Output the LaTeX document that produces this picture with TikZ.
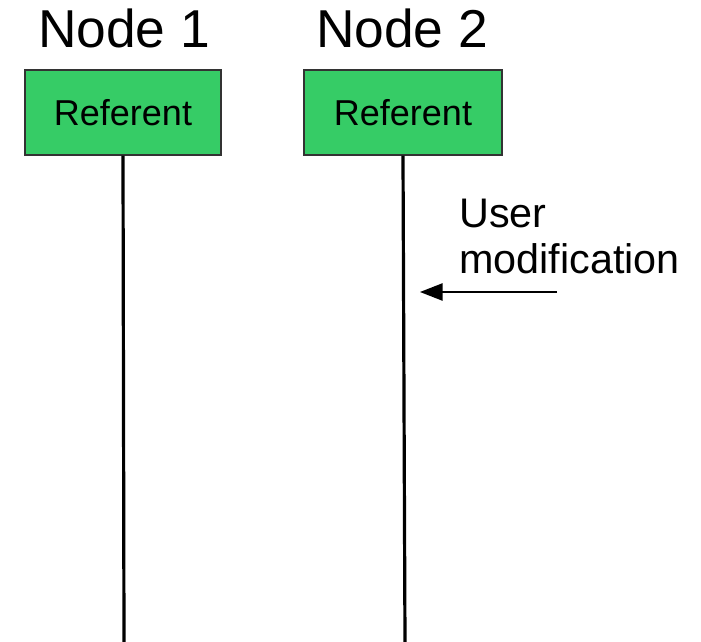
\documentclass[tikz,border=0pt]{standalone}
\usepackage{fontspec}
\setmainfont{Liberation Sans}
\usetikzlibrary{
	arrows.meta,
	calc
}
\definecolor{refgreen}{RGB}{54,204,102}

\begin{document}
\begin{tikzpicture}[
    x=0.75pt,y=-0.75pt,
    refbox/.style = { draw=black!80,fill=refgreen,line width=1.1pt,minimum width=+147pt,minimum height=+63.75pt,font=\fontsize{27}{30}\selectfont },
    title/.style = { anchor=base,inner sep=0pt,font=\fontsize{40}{44}\selectfont },
    lifeline/.style = { line width=2.4pt },
    arrowstyle/.style = { -{Triangle[length=17pt,width=13pt]},line width=1.1pt }
    ]
    \useasboundingbox (0,0) rectangle (701,642);
    % Definitions
    \coordinate (t1)   at (124, 48);
    \coordinate (t2)   at (402, 48);
    \coordinate (ref1) at (123,112.5);
    \coordinate (ref2) at (403,112.5);
    \coordinate (end1) at (124,642);
    \coordinate (end2) at (405,642);
    \coordinate (note) at (459,273);
    \coordinate (modS) at (557,292);
    \coordinate (modE) at (420,292);
    % Nodes
    \node(T1) at (t1)   [title]  {Node 1};
    \node(T2) at (t2)   [title]  {Node 2};
    \node(R1) at (ref1) [refbox] {Referent};
    \node(R2) at (ref2) [refbox,minimum width=+148.5pt] {Referent};
    \node(U)  at (note) [anchor=base west,inner sep=0pt,align=left,
                         font=\fontsize{31}{34}\selectfont] {User\\modification};
    % Lines
    \draw[lifeline]   (R1.south) -- (end1);
    \draw[lifeline]   (R2.south) -- (end2);
    \draw[arrowstyle] (modS)     -- (modE);
\end{tikzpicture}
\end{document}
